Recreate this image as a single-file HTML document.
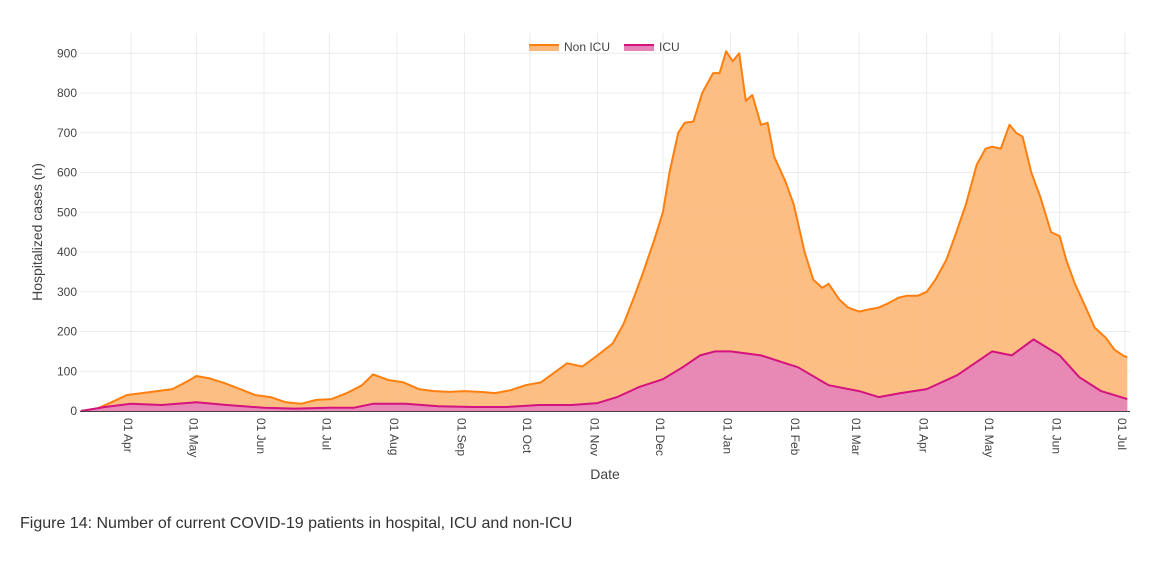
<!DOCTYPE html>
<html><head><meta charset="utf-8"><style>
body{margin:0;background:#fff;width:1160px;height:565px;overflow:hidden;font-family:"Liberation Sans",sans-serif}
svg text{font-family:"Liberation Sans",sans-serif}
#cap{position:absolute;left:20px;top:515px;font-size:16px;color:#333}
</style></head><body>
<svg id="chart" width="1160" height="510" style="position:absolute;left:0;top:0"></svg>
<div id="cap">Figure 14: Number of current COVID-19 patients in hospital, ICU and non-ICU</div>
<script>
const totalDates=["2020-03-09","2020-03-16","2020-03-23","2020-03-30","2020-04-06","2020-04-13","2020-04-20","2020-04-27","2020-05-01","2020-05-07","2020-05-14","2020-05-21","2020-05-28","2020-06-04","2020-06-11","2020-06-18","2020-06-25","2020-07-02","2020-07-09","2020-07-16","2020-07-21","2020-07-28","2020-08-04","2020-08-11","2020-08-18","2020-08-25","2020-09-01","2020-09-08","2020-09-15","2020-09-22","2020-09-29","2020-10-06","2020-10-13","2020-10-18","2020-10-25","2020-11-01","2020-11-08","2020-11-13","2020-11-18","2020-11-22","2020-11-27","2020-12-01","2020-12-04","2020-12-08","2020-12-11","2020-12-15","2020-12-19","2020-12-24","2020-12-27","2020-12-30","2021-01-02","2021-01-05","2021-01-08","2021-01-11","2021-01-15","2021-01-18","2021-01-21","2021-01-26","2021-01-30","2021-02-04","2021-02-08","2021-02-12","2021-02-15","2021-02-20","2021-02-24","2021-03-01","2021-03-05","2021-03-10","2021-03-14","2021-03-19","2021-03-23","2021-03-28","2021-04-01","2021-04-05","2021-04-10","2021-04-14","2021-04-19","2021-04-24","2021-04-28","2021-05-01","2021-05-05","2021-05-09","2021-05-12","2021-05-15","2021-05-19","2021-05-23","2021-05-28","2021-06-01","2021-06-04","2021-06-08","2021-06-13","2021-06-17","2021-06-22","2021-06-26","2021-06-30","2021-07-02"];
const totalValues=[0,5,22,40,45,50,55,75,88,82,70,55,40,35,22,18,28,30,45,65,92,78,72,55,50,48,50,48,45,52,65,72,100,120,112,140,170,220,290,350,430,500,600,700,725,728,800,850,850,905,880,900,780,795,720,725,640,580,520,400,330,310,320,280,260,250,255,260,270,285,290,290,300,330,380,440,520,620,660,665,660,720,700,690,600,540,450,440,380,320,260,210,185,155,140,135];
const icuDates=["2020-03-09","2020-03-20","2020-04-01","2020-04-15","2020-05-01","2020-05-15","2020-06-01","2020-06-15","2020-07-01","2020-07-12","2020-07-21","2020-08-05","2020-08-20","2020-09-05","2020-09-20","2020-10-05","2020-10-20","2020-11-01","2020-11-10","2020-11-20","2020-12-01","2020-12-10","2020-12-18","2020-12-25","2021-01-01","2021-01-15","2021-02-01","2021-02-15","2021-03-01","2021-03-10","2021-03-20","2021-04-01","2021-04-15","2021-05-01","2021-05-10","2021-05-20","2021-06-01","2021-06-10","2021-06-20","2021-07-02"];
const icuValues=[0,10,18,15,22,15,8,6,8,8,18,18,12,10,10,15,15,20,35,60,80,110,140,150,150,140,110,65,50,35,45,55,90,150,140,180,140,85,50,30];
const yTicks=[0,100,200,300,400,500,600,700,800,900];
const xTickDates=["2020-04-01","2020-05-01","2020-06-01","2020-07-01","2020-08-01","2020-09-01","2020-10-01","2020-11-01","2020-12-01","2021-01-01","2021-02-01","2021-03-01","2021-04-01","2021-05-01","2021-06-01","2021-07-01"];
const xTickLabels=["01 Apr","01 May","01 Jun","01 Jul","01 Aug","01 Sep","01 Oct","01 Nov","01 Dec","01 Jan","01 Feb","01 Mar","01 Apr","01 May","01 Jun","01 Jul"];

const NS="http://www.w3.org/2000/svg";
const svg=document.getElementById('chart');
const t0=Date.parse("2020-04-01");
const X=d=>131+(Date.parse(d)-t0)/864e5*2.18;
const Y=v=>411-v*0.3975;
function el(tag,attrs,parent){const e=document.createElementNS(NS,tag);for(const k in attrs)e.setAttribute(k,attrs[k]);(parent||svg).appendChild(e);return e;}
const grid=el('g',{});


yTicks.forEach(v=>{
  el('line',{x1:80,x2:1130,y1:Y(v),y2:Y(v),stroke:'#ebebeb','stroke-width':1},grid);
  const t=el('text',{x:77,y:Y(v)+4,'text-anchor':'end','font-size':12,fill:'#444'});
  t.textContent=v;
  
  
});
xTickDates.forEach((d,i)=>{
  const x=X(d);
  el('line',{x1:x,x2:x,y1:33,y2:411,stroke:'#ebebeb','stroke-width':1},grid);
  const t=el('text',{x:0,y:0,'font-size':12,fill:'#444',transform:`translate(${x-7},418) rotate(90)`});
  t.textContent=xTickLabels[i];
  
  
});
function pts(ds,vs){return ds.map((d,i)=>X(d).toFixed(1)+','+Y(vs[i]).toFixed(1));}
function area(ds,vs,fill,stroke,name){
  const p=pts(ds,vs);
  const a=el('path',{d:`M${X(ds[0])},${Y(0)}L${p.join('L')}L${X(ds[ds.length-1])},${Y(0)}Z`,fill:fill,'fill-opacity':0.93});
  
  
  const l=el('path',{d:'M'+p.join('L'),fill:'none',stroke:stroke,'stroke-width':2,'stroke-linejoin':'round'});
  
  
}
area(totalDates,totalValues,'#fdb97b','#ff7f0e','non-icu');
area(icuDates,icuValues,'#e683b9','#d4137f','icu');
el('line',{x1:80,x2:1130,y1:411.5,y2:411.5,stroke:'#444','stroke-width':1});
const yt=el('text',{x:0,y:0,'font-size':14,fill:'#444','text-anchor':'middle',transform:'translate(42,232) rotate(-90)'});
yt.textContent='Hospitalized cases (n)';


const xt=el('text',{x:605,y:479,'font-size':14,fill:'#444','text-anchor':'middle'});
xt.textContent='Date';


const lg=el('g',{});


el('rect',{x:529,y:44,width:30,height:7,fill:'#fdb97b'},lg);
el('line',{x1:529,x2:559,y1:45,y2:45,stroke:'#ff7f0e','stroke-width':2},lg);
const l1=el('text',{x:564,y:51,'font-size':12,fill:'#444'},lg);l1.textContent='Non ICU';


el('rect',{x:624,y:44,width:30,height:7,fill:'#e683b9'},lg);
el('line',{x1:624,x2:654,y1:45,y2:45,stroke:'#d4137f','stroke-width':2},lg);
const l2=el('text',{x:659,y:51,'font-size':12,fill:'#444'},lg);l2.textContent='ICU';


</script>
</body></html>
